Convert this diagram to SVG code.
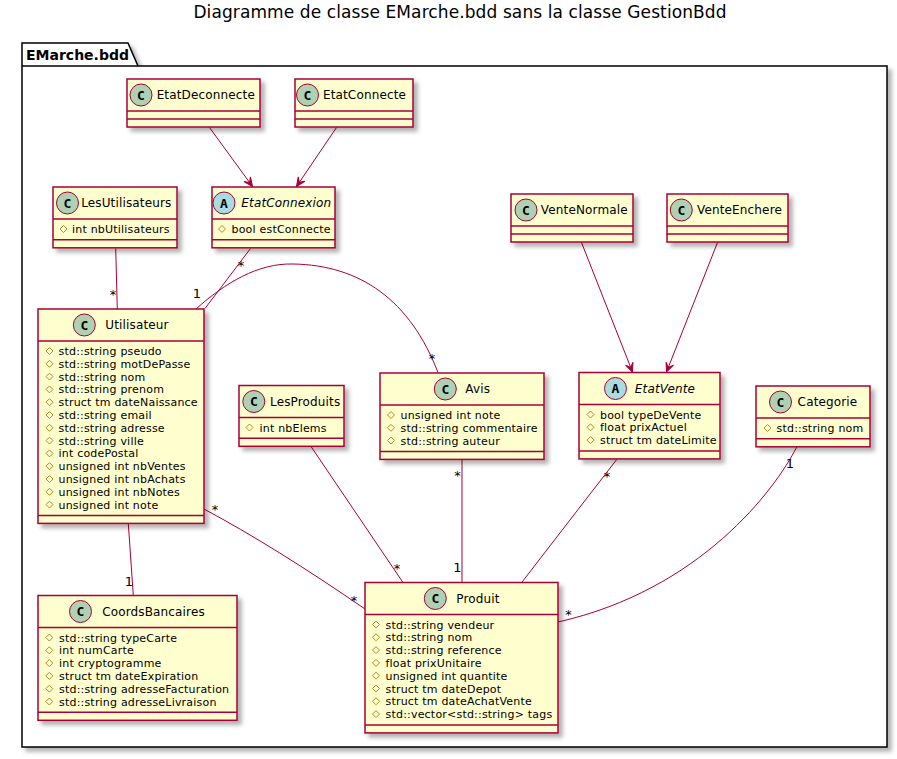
<svg xmlns="http://www.w3.org/2000/svg" xmlns:xlink="http://www.w3.org/1999/xlink" width="897" height="759" viewBox="0 0 897 759">
<style>
text{font-family:"DejaVu Sans","Noto Sans",sans-serif;fill:#000}
.box{fill:#FEFECE;stroke:#A80036;stroke-width:1.5;filter:url(#sh)}
.sep{stroke:#A80036;stroke-width:1.5}
.cc{fill:#ADD1B2;stroke:#A80036;stroke-width:1}
.ca{fill:#A9DCDF;stroke:#A80036;stroke-width:1}
.ci{font-size:13px;font-weight:bold;text-anchor:middle;font-family:"DejaVu Sans Mono","Liberation Mono",monospace}
.nm{font-size:12px;text-anchor:middle;letter-spacing:0.15px}
.it{font-style:italic}
.at{font-size:11px;letter-spacing:0.2px}
.dia{fill:none;stroke:#B38D22;stroke-width:1}
.ln{fill:none;stroke:#A80036;stroke-width:1}
.lb{font-size:13px;text-anchor:middle}
.pk{fill:#fff;stroke:#000;stroke-width:1.5;filter:url(#sh)}
</style>
<defs>
<filter id="sh" x="-10%" y="-10%" width="130%" height="130%">
<feDropShadow dx="4" dy="4" stdDeviation="2" flood-color="#000" flood-opacity="0.3"/>
</filter>
<polygon id="prot" class="dia" points="0,-3.5 3.5,0 0,3.5 -3.5,0"/>
<marker id="arr" markerUnits="userSpaceOnUse" orient="auto" markerWidth="12" markerHeight="12" viewBox="-10 -6 12 12" refX="0" refY="0">
<path d="M0,0 L-9,-4 L-5,0 L-9,4 Z" fill="#A80036" stroke="#A80036" stroke-width="1"/>
</marker>
</defs>

<text x="460" y="18" font-size="17" letter-spacing="0.1" text-anchor="middle">Diagramme de classe EMarche.bdd sans la classe GestionBdd</text>

<g id="package-EMarche.bdd">
<path class="pk" d="M22,43 L128,43 L138,66 L887,66 L887,747 L22,747 Z"/>
<line x1="22" y1="66" x2="138" y2="66" stroke="#000" stroke-width="1.5"/>
<text x="26" y="60" font-size="14" font-weight="bold">EMarche.bdd</text>
</g>

<g id="connectors">
<path class="ln" d="M209.5,127.5 L252.5,186.5" marker-end="url(#arr)"/>
<path class="ln" d="M336.5,127.5 L296.5,186.5" marker-end="url(#arr)"/>
<path class="ln" d="M581.5,242.5 L632.5,372" marker-end="url(#arr)"/>
<path class="ln" d="M717.5,242.5 L666.5,372" marker-end="url(#arr)"/>
<path class="ln" d="M115.7,248.5 L117.3,309"/>
<path class="ln" d="M250.5,248.5 L205,308.5"/>
<path class="ln" d="M196,309 C225,283 258,263 293,264 C360,265 410,300 438,372.5"/>
<path class="ln" d="M128.3,523.5 L133.3,595.5"/>
<path class="ln" d="M204,509 Q275,547 365,609"/>
<path class="ln" d="M311,446.5 L403,582.5"/>
<path class="ln" d="M462,459.5 L462,582.5"/>
<path class="ln" d="M616.7,459.5 L521.7,582.5"/>
<path class="ln" d="M796.7,447 C775,490 700,590 558,622"/>
<text class="lb" x="113" y="299">*</text>
<text class="lb" x="241" y="270">*</text>
<text class="lb" x="197" y="298">1</text>
<text class="lb" x="432" y="363">*</text>
<text class="lb" x="215" y="514">*</text>
<text class="lb" x="354" y="605">*</text>
<text class="lb" x="129" y="585.5">1</text>
<text class="lb" x="397" y="573">*</text>
<text class="lb" x="457.5" y="480">*</text>
<text class="lb" x="457.5" y="572">1</text>
<text class="lb" x="607" y="481">*</text>
<text class="lb" x="790" y="468">1</text>
<text class="lb" x="568.5" y="619">*</text>
</g>

<g id="EtatDeconnecte">
<rect class="box" x="127" y="79" width="133" height="48"/>
<line class="sep" x1="127" y1="111" x2="260" y2="111"/>
<line class="sep" x1="127" y1="119" x2="260" y2="119"/>
<circle class="cc" cx="141" cy="95" r="11"/>
<text class="ci" x="141" y="99.7">C</text>
<text class="nm" x="205.8" y="99.3">EtatDeconnecte</text>
</g>

<g id="EtatConnecte">
<rect class="box" x="295" y="79" width="118" height="48"/>
<line class="sep" x1="295" y1="111" x2="413" y2="111"/>
<line class="sep" x1="295" y1="119" x2="413" y2="119"/>
<circle class="cc" cx="307.5" cy="95" r="11"/>
<text class="ci" x="307.5" y="99.7">C</text>
<text class="nm" x="364.5" y="99.3">EtatConnecte</text>
</g>

<g id="LesUtilisateurs">
<rect class="box" x="53" y="187" width="124" height="60.8"/>
<line class="sep" x1="53" y1="219" x2="177" y2="219"/>
<line class="sep" x1="53" y1="239.8" x2="177" y2="239.8"/>
<circle class="cc" cx="67.5" cy="203" r="11"/>
<text class="ci" x="67.5" y="207.7">C</text>
<text class="nm" x="126.3" y="207.3">LesUtilisateurs</text>
<use href="#prot" x="63.5" y="229"/>
<text class="at" x="72" y="233">int nbUtilisateurs</text>
</g>

<g id="EtatConnexion">
<rect class="box" x="212" y="187" width="123" height="60.8"/>
<line class="sep" x1="212" y1="219" x2="335" y2="219"/>
<line class="sep" x1="212" y1="239.8" x2="335" y2="239.8"/>
<circle class="ca" cx="224" cy="203" r="11"/>
<text class="ci" x="224" y="207.7">A</text>
<text class="nm it" x="286.3" y="207.3">EtatConnexion</text>
<use href="#prot" x="222" y="229"/>
<text class="at" x="231.5" y="233">bool estConnecte</text>
</g>

<g id="VenteNormale">
<rect class="box" x="511" y="194" width="122" height="48"/>
<line class="sep" x1="511" y1="226" x2="633" y2="226"/>
<line class="sep" x1="511" y1="234" x2="633" y2="234"/>
<circle class="cc" cx="526" cy="210" r="11"/>
<text class="ci" x="526" y="214.7">C</text>
<text class="nm" x="584.3" y="214.3">VenteNormale</text>
</g>

<g id="VenteEnchere">
<rect class="box" x="667" y="194" width="121" height="48"/>
<line class="sep" x1="667" y1="226" x2="788" y2="226"/>
<line class="sep" x1="667" y1="234" x2="788" y2="234"/>
<circle class="cc" cx="681.3" cy="210" r="11"/>
<text class="ci" x="681.3" y="214.7">C</text>
<text class="nm" x="739.5" y="214.3">VenteEnchere</text>
</g>

<g id="Utilisateur">
<rect class="box" x="38" y="309" width="166" height="214.4"/>
<line class="sep" x1="38" y1="341" x2="204" y2="341"/>
<line class="sep" x1="38" y1="515.4" x2="204" y2="515.4"/>
<circle class="cc" cx="84.3" cy="325" r="11"/>
<text class="ci" x="84.3" y="329.7">C</text>
<text class="nm" x="137" y="329.3">Utilisateur</text>
<use href="#prot" x="49.5" y="351"/><text class="at" x="58.5" y="355">std::string pseudo</text>
<use href="#prot" x="49.5" y="363.8"/><text class="at" x="58.5" y="367.8">std::string motDePasse</text>
<use href="#prot" x="49.5" y="376.6"/><text class="at" x="58.5" y="380.6">std::string nom</text>
<use href="#prot" x="49.5" y="389.4"/><text class="at" x="58.5" y="393.4">std::string prenom</text>
<use href="#prot" x="49.5" y="402.2"/><text class="at" x="58.5" y="406.2">struct tm dateNaissance</text>
<use href="#prot" x="49.5" y="415"/><text class="at" x="58.5" y="419">std::string email</text>
<use href="#prot" x="49.5" y="427.8"/><text class="at" x="58.5" y="431.8">std::string adresse</text>
<use href="#prot" x="49.5" y="440.6"/><text class="at" x="58.5" y="444.6">std::string ville</text>
<use href="#prot" x="49.5" y="453.4"/><text class="at" x="58.5" y="457.4">int codePostal</text>
<use href="#prot" x="49.5" y="466.2"/><text class="at" x="58.5" y="470.2">unsigned int nbVentes</text>
<use href="#prot" x="49.5" y="479"/><text class="at" x="58.5" y="483">unsigned int nbAchats</text>
<use href="#prot" x="49.5" y="491.8"/><text class="at" x="58.5" y="495.8">unsigned int nbNotes</text>
<use href="#prot" x="49.5" y="504.6"/><text class="at" x="58.5" y="508.6">unsigned int note</text>
</g>

<g id="LesProduits">
<rect class="box" x="239" y="385.5" width="105" height="60.8"/>
<line class="sep" x1="239" y1="417.5" x2="344" y2="417.5"/>
<line class="sep" x1="239" y1="438.3" x2="344" y2="438.3"/>
<circle class="cc" cx="253.8" cy="401.5" r="11"/>
<text class="ci" x="253.8" y="406.2">C</text>
<text class="nm" x="305.2" y="405.8">LesProduits</text>
<use href="#prot" x="249.5" y="427.5"/>
<text class="at" x="259.5" y="431.5">int nbElems</text>
</g>

<g id="Avis">
<rect class="box" x="380" y="373" width="164" height="86.4"/>
<line class="sep" x1="380" y1="405" x2="544" y2="405"/>
<line class="sep" x1="380" y1="451.4" x2="544" y2="451.4"/>
<circle class="cc" cx="445.3" cy="389" r="11"/>
<text class="ci" x="445.3" y="393.7">C</text>
<text class="nm" x="477.7" y="393.3">Avis</text>
<use href="#prot" x="391" y="415"/><text class="at" x="400.5" y="419">unsigned int note</text>
<use href="#prot" x="391" y="427.8"/><text class="at" x="400.5" y="431.8">std::string commentaire</text>
<use href="#prot" x="391" y="440.6"/><text class="at" x="400.5" y="444.6">std::string auteur</text>
</g>

<g id="EtatVente">
<rect class="box" x="579" y="372.5" width="141" height="86.4"/>
<line class="sep" x1="579" y1="404.5" x2="720" y2="404.5"/>
<line class="sep" x1="579" y1="450.9" x2="720" y2="450.9"/>
<circle class="ca" cx="615.5" cy="388.5" r="11"/>
<text class="ci" x="615.5" y="393.2">A</text>
<text class="nm it" x="665" y="392.8">EtatVente</text>
<use href="#prot" x="590.5" y="414.5"/><text class="at" x="600" y="418.5">bool typeDeVente</text>
<use href="#prot" x="590.5" y="427.3"/><text class="at" x="600" y="431.3">float prixActuel</text>
<use href="#prot" x="590.5" y="440.1"/><text class="at" x="600" y="444.1">struct tm dateLimite</text>
</g>

<g id="Categorie">
<rect class="box" x="756" y="386" width="114" height="60.8"/>
<line class="sep" x1="756" y1="418" x2="870" y2="418"/>
<line class="sep" x1="756" y1="438.8" x2="870" y2="438.8"/>
<circle class="cc" cx="780.5" cy="402" r="11"/>
<text class="ci" x="780.5" y="406.7">C</text>
<text class="nm" x="827.5" y="406.3">Categorie</text>
<use href="#prot" x="767.5" y="428"/>
<text class="at" x="776.5" y="432">std::string nom</text>
</g>

<g id="CoordsBancaires">
<rect class="box" x="38" y="595.5" width="199" height="124.8"/>
<line class="sep" x1="38" y1="627.5" x2="237" y2="627.5"/>
<line class="sep" x1="38" y1="712.3" x2="237" y2="712.3"/>
<circle class="cc" cx="80.5" cy="611.5" r="11"/>
<text class="ci" x="80.5" y="616.2">C</text>
<text class="nm" x="153.5" y="615.8">CoordsBancaires</text>
<use href="#prot" x="49.3" y="637.5"/><text class="at" x="59" y="641.5">std::string typeCarte</text>
<use href="#prot" x="49.3" y="650.3"/><text class="at" x="59" y="654.3">int numCarte</text>
<use href="#prot" x="49.3" y="663.1"/><text class="at" x="59" y="667.1">int cryptogramme</text>
<use href="#prot" x="49.3" y="675.9"/><text class="at" x="59" y="679.9">struct tm dateExpiration</text>
<use href="#prot" x="49.3" y="688.7"/><text class="at" x="59" y="692.7">std::string adresseFacturation</text>
<use href="#prot" x="49.3" y="701.5"/><text class="at" x="59" y="705.5">std::string adresseLivraison</text>
</g>

<g id="Produit">
<rect class="box" x="365" y="582.5" width="193" height="150.4"/>
<line class="sep" x1="365" y1="614.5" x2="558" y2="614.5"/>
<line class="sep" x1="365" y1="724.9" x2="558" y2="724.9"/>
<circle class="cc" cx="435.3" cy="598.5" r="11"/>
<text class="ci" x="435.3" y="603.2">C</text>
<text class="nm" x="478" y="602.8">Produit</text>
<use href="#prot" x="376" y="624.5"/><text class="at" x="385.5" y="628.5">std::string vendeur</text>
<use href="#prot" x="376" y="637.3"/><text class="at" x="385.5" y="641.3">std::string nom</text>
<use href="#prot" x="376" y="650.1"/><text class="at" x="385.5" y="654.1">std::string reference</text>
<use href="#prot" x="376" y="662.9"/><text class="at" x="385.5" y="666.9">float prixUnitaire</text>
<use href="#prot" x="376" y="675.7"/><text class="at" x="385.5" y="679.7">unsigned int quantite</text>
<use href="#prot" x="376" y="688.5"/><text class="at" x="385.5" y="692.5">struct tm dateDepot</text>
<use href="#prot" x="376" y="701.3"/><text class="at" x="385.5" y="705.3">struct tm dateAchatVente</text>
<use href="#prot" x="376" y="714.1"/><text class="at" x="385.5" y="718.1">std::vector&lt;std::string&gt; tags</text>
</g>
</svg>
